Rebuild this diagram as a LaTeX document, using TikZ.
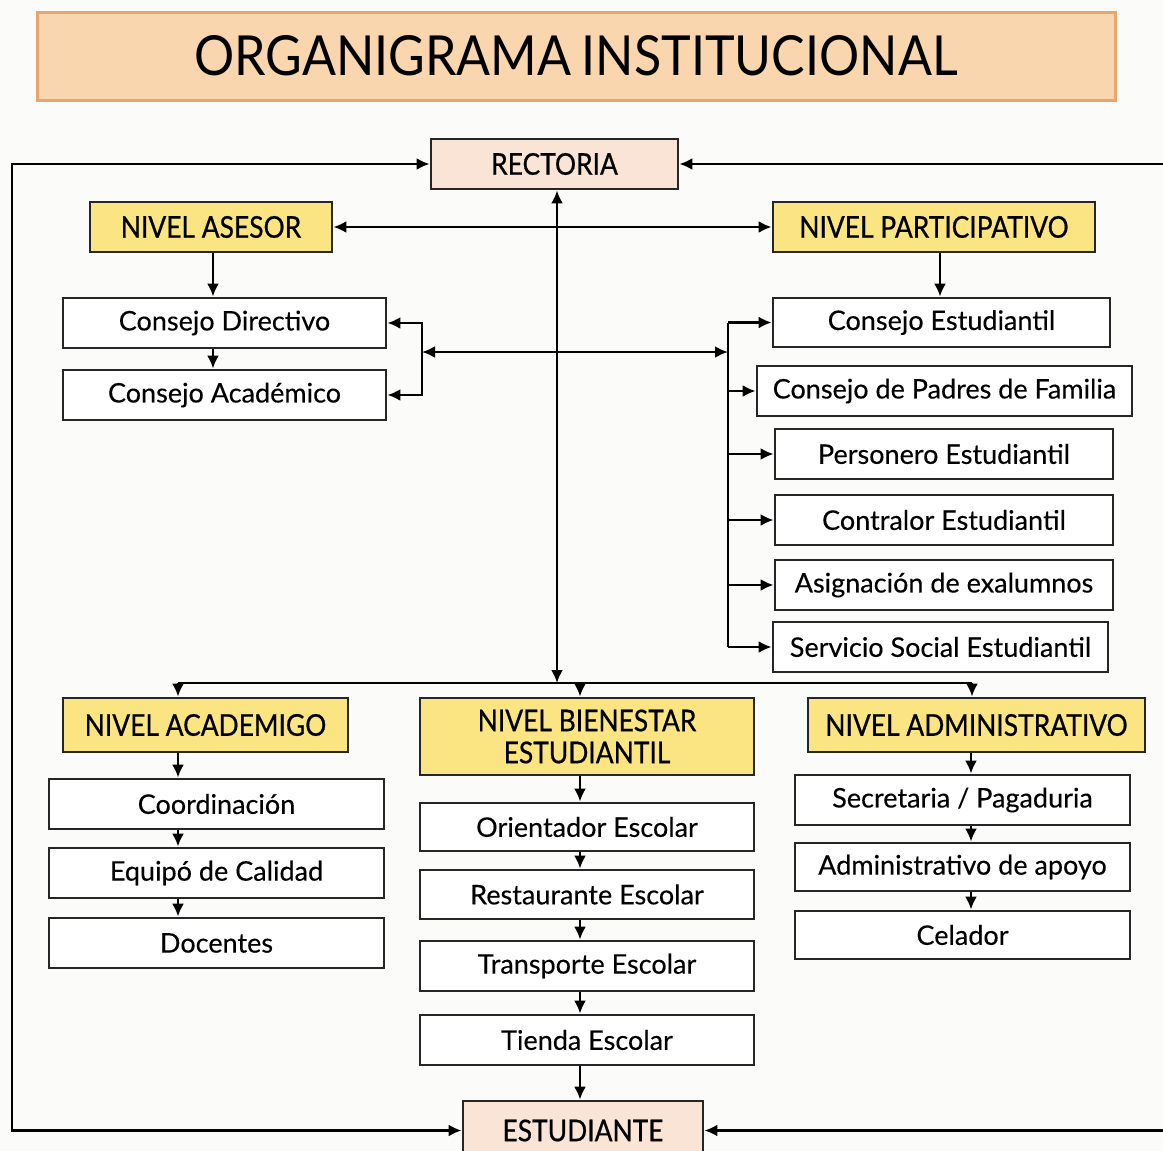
\documentclass[tikz,border=0pt]{standalone}
\usepackage{fontspec}
\usepackage{graphicx}
\setmainfont{Lato}[FakeBold=0.25]
\newfontfamily\hdr{Lato}[FakeBold=0.6,FakeStretch=0.88]
\newfontfamily\ttl{Lato}[FakeStretch=0.8]
\usetikzlibrary{arrows.meta}
\definecolor{yel}{HTML}{FBE482}
\definecolor{peach}{HTML}{F9E4D6}
\definecolor{tfill}{HTML}{FAD6AF}
\definecolor{tdraw}{HTML}{E9A56E}
\definecolor{bg}{HTML}{FBFBFA}
\tikzset{
  box/.style={draw=black!85, line width=2.8pt, fill=white, inner sep=0pt, text=black,
    font=\fontsize{27}{30}\selectfont},
  hbox/.style={box, fill=yel, font=\hdr\fontsize{30}{32}\selectfont, align=center},
  pbox/.style={box, fill=peach, font=\hdr\fontsize{30}{32}\selectfont},
  ln/.style={line width=2.5pt, draw=black},
  arr/.style={ln, -{Latex[length=13pt,width=12pt]}},
  arrs/.style={ln, {Latex[length=13pt,width=12pt]}-{Latex[length=13pt,width=12pt]}},
}
\begin{document}
\begin{tikzpicture}[x=1pt,y=-1pt]
\useasboundingbox (0,0) rectangle (1163,1151);
\fill[bg] (0,0) rectangle (1163,1151);
% title
\node[draw=tdraw, line width=3pt, fill=tfill, minimum width=1078pt, minimum height=88pt, inner sep=0pt] (title) at (576,56)
  {\resizebox{763pt}{40pt}{\ttl ORGANIGRAMA\,INSTITUCIONAL}};
% top
\node[pbox, minimum width=247pt, minimum height=50pt] (rect) at (554.5,164) {RECTORIA};
\node[hbox, minimum width=242pt, minimum height=50pt] (asesor) at (211,227) {NIVEL ASESOR};
\node[hbox, minimum width=322pt, minimum height=50pt] (partic) at (934,227) {NIVEL PARTICIPATIVO};
\node[box, minimum width=323pt, minimum height=50pt] (cdir) at (224.5,323) {Consejo Directivo};
\node[box, minimum width=323pt, minimum height=50pt] (cacad) at (224.5,395) {Consejo Académico};
\node[box, minimum width=337pt, minimum height=49pt] (cest) at (941.5,322.5) {Consejo Estudiantil};
\node[box, minimum width=375pt, minimum height=50pt] (padres) at (944.5,391) {Consejo de Padres de Familia};
\node[box, minimum width=338pt, minimum height=50pt] (pers) at (944,454) {Personero Estudiantil};
\node[box, minimum width=338pt, minimum height=50pt] (contr) at (944,520) {Contralor Estudiantil};
\node[box, minimum width=338pt, minimum height=50pt] (asign) at (944,585) {Asignación de exalumnos};
\node[box, minimum width=335pt, minimum height=50pt] (serv) at (940.5,647) {Servicio Social Estudiantil};
% levels
\node[hbox, minimum width=285pt, minimum height=54pt] (nacad) at (205.5,725) {NIVEL ACADEMIGO};
\node[hbox, minimum width=334pt, minimum height=77pt] (nbien) at (587,736.5) {NIVEL BIENESTAR\\ESTUDIANTIL};
\node[hbox, minimum width=337pt, minimum height=54pt] (nadm) at (976.5,725) {NIVEL ADMINISTRATIVO};
\node[box, minimum width=335pt, minimum height=50pt] (coord) at (216.5,804) {Coordinación};
\node[box, minimum width=335pt, minimum height=50pt] (equipo) at (216.5,873) {Equipó de Calidad};
\node[box, minimum width=335pt, minimum height=50pt] (doc) at (216.5,943) {Docentes};
\node[box, minimum width=334pt, minimum height=48pt] (orient) at (587,827) {Orientador Escolar};
\node[box, minimum width=334pt, minimum height=49pt] (rest) at (587,894.5) {Restaurante Escolar};
\node[box, minimum width=334pt, minimum height=50pt] (transp) at (587,966) {Transporte Escolar};
\node[box, minimum width=334pt, minimum height=50pt] (tienda) at (587,1040) {Tienda Escolar};
\node[box, minimum width=335pt, minimum height=50pt] (secr) at (962.5,800) {Secretaria / Pagaduria};
\node[box, minimum width=335pt, minimum height=48pt] (admap) at (962.5,867) {Administrativo de apoyo};
\node[box, minimum width=335pt, minimum height=48pt] (cel) at (962.5,935) {Celador};
\node[pbox, minimum width=240pt, minimum height=59pt] (est) at (583,1130.5) {ESTUDIANTE};
% helper x positions
\coordinate (xA) at (178,0);
\coordinate (xB) at (580,0);
\coordinate (xC) at (971,0);
\coordinate (xS) at (213,0);
\coordinate (xP) at (940,0);
\coordinate (xM) at (557,0);
\coordinate (lo) at (12,0);
\coordinate (ro) at (1175,0);
\coordinate (lbr) at (422,352);
\coordinate (rbr) at (728,352);
\coordinate (dL) at (178,683);
\coordinate (dR) at (972,683);
% outer loop
\draw[arrs] (rect.west) -- (rect.west -| lo) -- (est.west -| lo) -- (est.west);
\draw[arr] (rect.east -| ro) -- (rect.east);
\draw[arr] (est.east -| ro) -- (est.east);
% rectoria central axis
\draw[arrs] (rect.south -| xM) -- (xM |- dL);
\draw[arrs] (asesor.east) -- (partic.west);
% brackets
\draw[arrs] (lbr) -- (rbr);
\draw[arrs] (cdir.east) -| (lbr) |- (cacad.east);
\draw[ln] (rbr |- cest.west) -- (rbr |- serv.west);
\foreach \n in {cest,padres,pers,contr,asign,serv}
  \draw[arr] (rbr |- \n.west) -- (\n.west);
% asesor / participativo
\draw[arr] (asesor.south -| xS) -- (cdir.north -| xS);
\draw[arr] (cdir.south -| xS) -- (cacad.north -| xS);
\draw[arr] (partic.south -| xP) -- (cest.north -| xP);
% distribution
\draw[ln] (dL) -- (dR);
\draw[arr] (dL) -- (nacad.north -| xA);
\draw[arr] (xB |- dL) -- (nbien.north -| xB);
\draw[arr] (dR) -- (nadm.north -| dR);
% chains
\draw[arr] (nacad.south -| xA) -- (coord.north -| xA);
\draw[arr] (coord.south -| xA) -- (equipo.north -| xA);
\draw[arr] (equipo.south -| xA) -- (doc.north -| xA);
\draw[arr] (nbien.south -| xB) -- (orient.north -| xB);
\draw[arr] (orient.south -| xB) -- (rest.north -| xB);
\draw[arr] (rest.south -| xB) -- (transp.north -| xB);
\draw[arr] (transp.south -| xB) -- (tienda.north -| xB);
\draw[arr] (tienda.south -| xB) -- (est.north -| xB);
\draw[arr] (nadm.south -| xC) -- (secr.north -| xC);
\draw[arr] (secr.south -| xC) -- (admap.north -| xC);
\draw[arr] (admap.south -| xC) -- (cel.north -| xC);
\end{tikzpicture}
\end{document}
